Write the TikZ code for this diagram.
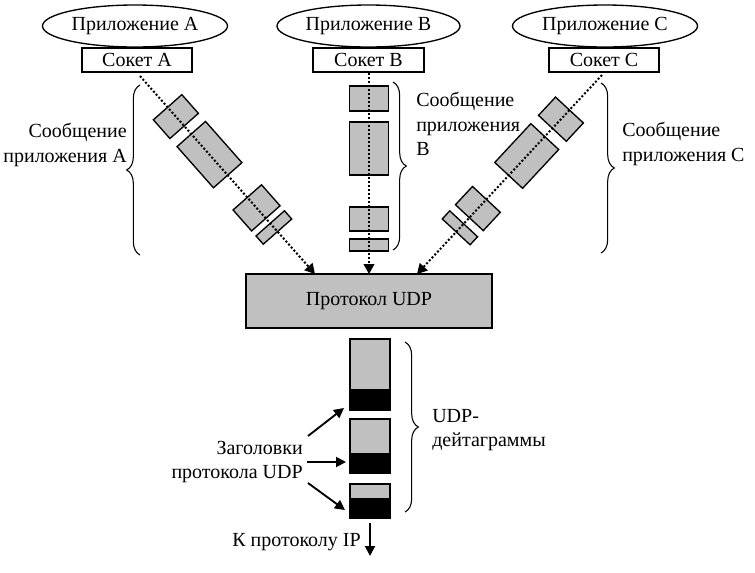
\documentclass[tikz,border=0pt]{standalone}
\usepackage{fontspec}
\setmainfont{Liberation Serif}
\usetikzlibrary{arrows.meta,decorations.pathreplacing,shapes.geometric,calc}
\definecolor{pktgray}{HTML}{C0C0C0}
\begin{document}
\begin{tikzpicture}[x=0.75pt,y=-0.75pt,
  font=\fontsize{15}{18.2}\selectfont,
  app/.style={draw, ellipse, line width=1pt, minimum width=138.75pt, minimum height=31.5pt, inner sep=0pt},
  sock/.style={draw, fill=white, line width=1pt, minimum width=82.5pt, minimum height=18pt, inner sep=0pt},
  pkt/.style={draw, fill=pktgray, line width=1pt, minimum height=28.5pt, inner sep=0pt, sloped},
  dgram/.style={draw, fill=pktgray, line width=1pt, minimum width=30pt, inner sep=0pt},
  hdr/.style={draw, fill=black, line width=1pt, minimum width=30pt, inner sep=0pt},
  flow/.style={line width=1.5pt, dash pattern=on 1.5pt off 1.5pt, -{Triangle[length=7.5pt,width=8pt]}},
  arr/.style={line width=1.4pt, -{Triangle[length=7.5pt,width=7.5pt]}},
  brc/.style={decorate, decoration={brace, amplitude=10pt}, line width=0.8pt},
  lbl/.style={inner sep=0pt}]
\useasboundingbox (0,0) rectangle (755,572);

% applications and sockets
\node[app] (appA) at (135,26) {Приложение A};
\node[app, minimum width=137.25pt] (appB) at (368.5,26) {Приложение B};
\node[app] (appC) at (605,26) {Приложение C};
\node[sock] (sockA) at (137,60) {Сокет A};
\node[sock, minimum width=83.25pt] (sockB) at (368.5,60) {Сокет B};
\node[sock] (sockC) at (604,60) {Сокет C};

% UDP box
\node[draw, fill=pktgray, line width=1pt, minimum width=184.5pt, minimum height=40.5pt, inner sep=0pt] (udp) at (369,301) {Протокол UDP};

% flow end points
\coordinate (a0) at (140,76);  \coordinate (a1) at (315,274);
\coordinate (b0) at (369,73);  \coordinate (b1) at (369,274);
\coordinate (c0) at (602,75);  \coordinate (c1) at (417,274);

% packets A
\path (a0) -- (a1)
  node[pkt, pos=0.205, minimum width=18.75pt] (pa1) {}
  node[pkt, pos=0.397, minimum width=41.25pt] (pa2) {}
  node[pkt, pos=0.666, minimum width=21pt] (pa3) {}
  node[pkt, pos=0.765, minimum width=8.25pt] (pa4) {};
% packets B
\path (b0) -- (b1)
  node[pkt, pos=0.127, minimum width=18.75pt, minimum height=29.25pt] (pb1) {}
  node[pkt, pos=0.376, minimum width=39.75pt, minimum height=29.25pt] (pb2) {}
  node[pkt, pos=0.727, minimum width=18pt, minimum height=29.25pt] (pb3) {}
  node[pkt, pos=0.856, minimum width=9pt, minimum height=29.25pt] (pb4) {};
% packets C
\path (c0) -- (c1)
  node[pkt, pos=0.222, minimum width=18.75pt] (pc1) {}
  node[pkt, pos=0.407, minimum width=39.75pt] (pc2) {}
  node[pkt, pos=0.671, minimum width=18.75pt] (pc3) {}
  node[pkt, pos=0.768, minimum width=8.25pt] (pc4) {};

% dotted flows
\draw[flow] (a0) -- (a1);
\draw[flow] (b0) -- (b1);
\draw[flow] (c0) -- (c1);

% braces
\coordinate (brA1) at (140,255); \coordinate (brA2) at (140,85);
\coordinate (brB1) at (393,82);  \coordinate (brB2) at (393,250);
\coordinate (brC1) at (601,83);  \coordinate (brC2) at (601,253);
\draw[brc] (brA1) -- (brA2);
\draw[brc] (brB1) -- (brB2);
\draw[brc] (brC1) -- (brC2);

\node[lbl, anchor=east, align=right] (msgA) at (127,145) {Сообщение\\приложения A};
\node[lbl, anchor=west, align=left] (msgB) at (416,124) {Сообщение\\приложения\\B};
\node[lbl, anchor=west, align=left] (msgC) at (622,144) {Сообщение\\приложения C};

% datagrams
\node[dgram, minimum height=53.25pt] (dg1) at (370,374.5) {};
\node[hdr, minimum height=15pt] (h1) at (370,400) {};
\node[dgram, minimum height=40.5pt] (dg2) at (370,446) {};
\node[hdr, minimum height=14.25pt] (h2) at (370,463.5) {};
\node[dgram, minimum height=25.5pt] (dg3) at (370,501) {};
\node[hdr, minimum height=14.25pt] (h3) at (370,508.5) {};

\coordinate (brD1) at (405,342); \coordinate (brD2) at (405,512);
\draw[brc] (brD1) -- (brD2);
\node[lbl, anchor=west, align=left] (udpdg) at (432,430) {UDP-\\дейтаграммы};

\node[lbl, anchor=east, align=right] (hdrs) at (303,462) {Заголовки\\протокола UDP};
\coordinate (s1) at (308,436); \coordinate (e1) at (344,408);
\coordinate (s2) at (307,462); \coordinate (e2) at (346,462);
\coordinate (s3) at (308,483); \coordinate (e3) at (345,510);
\draw[arr] (s1) -- (e1);
\draw[arr] (s2) -- (e2);
\draw[arr] (s3) -- (e3);

\coordinate (ipend) at (370,556);
\draw[arr] ($(h3.south)+(0,4)$) -- (ipend);
\node[lbl, anchor=east] (ip) at (361,542) {К протоколу IP};
\end{tikzpicture}
\end{document}
